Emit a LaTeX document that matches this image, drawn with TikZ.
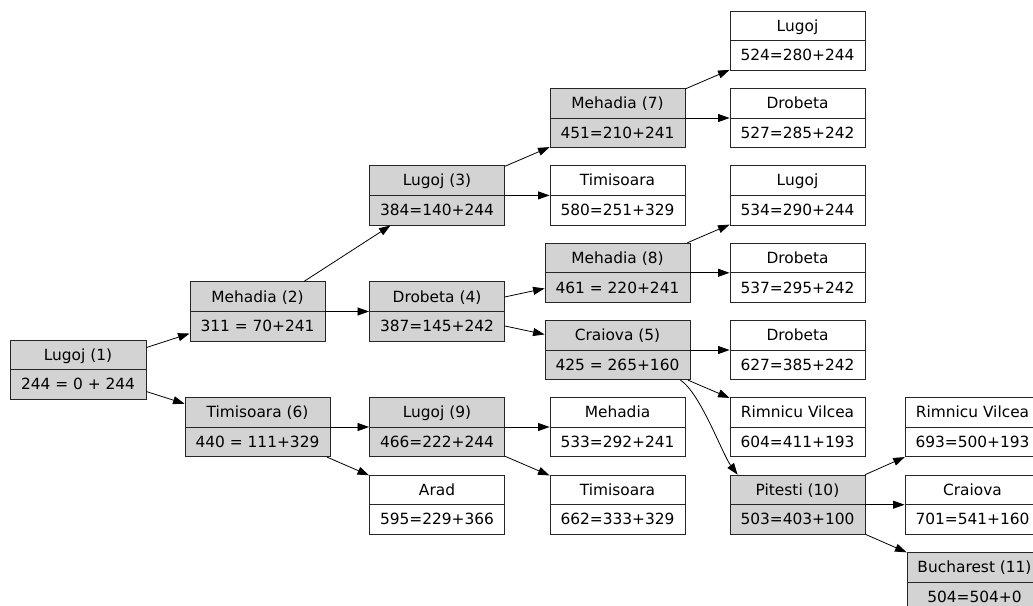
\documentclass[tikz,border=0pt]{standalone}
\usepackage{fontspec}
\setmainfont{DejaVu Sans}
\usetikzlibrary{shapes.multipart,arrows.meta}
\definecolor{visited}{HTML}{D3D3D3}
\newcommand{\fieldstrut}{\rule[-9pt]{0pt}{28.75pt}}
\newcommand{\city}[2]{\fieldstrut#1\nodepart{two}\fieldstrut#2}

\begin{document}
\begin{tikzpicture}[x=1pt,y=-1pt,
	rec/.style={rectangle split,rectangle split parts=2,draw=black!85,line width=0.9pt,
		minimum width=135pt,inner ysep=0pt,inner xsep=0pt,font=\fontsize{15.4}{18}\selectfont},
	wide/.style={minimum width=145pt},
	open/.style={rec,fill=white},
	done/.style={rec,fill=visited},
	edge/.style={-{Triangle[length=11.5pt,width=8pt]},line width=0.8pt}]
\useasboundingbox (0,0) rectangle (1033,605);
\clip (0,0) rectangle (1033,605);

% expanded nodes
\node[done,minimum width=136pt] (n1) at (78,369.7) {\city{Lugoj (1)}{244 = 0 + 244}};
\node[done] (n2) at (257.5,311.5) {\city{Mehadia (2)}{311 = 70+241}};
\node[done,wide] (n6) at (257.5,427) {\city{Timisoara (6)}{440 = 111+329}};
\node[done] (n3) at (437,195.4) {\city{Lugoj (3)}{384=140+244}};
\node[done] (n4) at (437,311.5) {\city{Drobeta (4)}{387=145+242}};
\node[done] (n9) at (437,427) {\city{Lugoj (9)}{466=222+244}};
\node[done] (n7) at (617.5,118) {\city{Mehadia (7)}{451=210+241}};
\node[done,wide] (n8) at (617.5,272.8) {\city{Mehadia (8)}{461 = 220+241}};
\node[done,wide] (n5) at (617.5,350) {\city{Craiova (5)}{425 = 265+160}};
\node[done] (n10) at (797.5,504.7) {\city{Pitesti (10)}{503=403+100}};
\node[done] (n11) at (974.5,582) {\city{Bucharest (11)}{504=504+0}};

% frontier nodes
\node[open] (arad) at (437,504.7) {\city{Arad}{595=229+366}};
\node[open] (timi580) at (617.5,195.4) {\city{Timisoara}{580=251+329}};
\node[open] (meh533) at (617.5,427) {\city{Mehadia}{533=292+241}};
\node[open] (timi662) at (617.5,504.7) {\city{Timisoara}{662=333+329}};
\node[open] (lug524) at (797.5,40.7) {\city{Lugoj}{524=280+244}};
\node[open] (dro527) at (797.5,118) {\city{Drobeta}{527=285+242}};
\node[open] (lug534) at (797.5,195.4) {\city{Lugoj}{534=290+244}};
\node[open] (dro537) at (797.5,272.8) {\city{Drobeta}{537=295+242}};
\node[open] (dro627) at (797.5,350) {\city{Drobeta}{627=385+242}};
\node[open] (rim604) at (797.5,427) {\city{Rimnicu Vilcea}{604=411+193}};
\node[open] (rim693) at (972.5,427) {\city{Rimnicu Vilcea}{693=500+193}};
\node[open] (cra701) at (972.5,504.7) {\city{Craiova}{701=541+160}};

% edges
\draw[edge] (n1) -- (n2);
\draw[edge] (n1) -- (n6);
\draw[edge] (n2) -- (n3);
\draw[edge] (n2) -- (n4);
\draw[edge] (n6) -- (n9);
\draw[edge] (n6) -- (arad);
\draw[edge] (n3) -- (n7);
\draw[edge] (n3) -- (timi580);
\draw[edge] (n4) -- (n8);
\draw[edge] (n4) -- (n5);
\draw[edge] (n9) -- (meh533);
\draw[edge] (n9) -- (timi662);
\draw[edge] (n7) -- (lug524);
\draw[edge] (n7) -- (dro527);
\draw[edge] (n8) -- (lug534);
\draw[edge] (n8) -- (dro537);
\draw[edge] (n5) -- (dro627);
\draw[edge] (n5) -- (rim604);
\draw[edge] ([xshift=-10pt]n5.south east) .. controls +(20,13) and +(-15,-20) .. ([xshift=8pt]n10.north west);
\draw[edge] (n10) -- (rim693);
\draw[edge] (n10) -- (cra701);
\draw[edge] (n10) -- (n11);

\end{tikzpicture}
\end{document}
